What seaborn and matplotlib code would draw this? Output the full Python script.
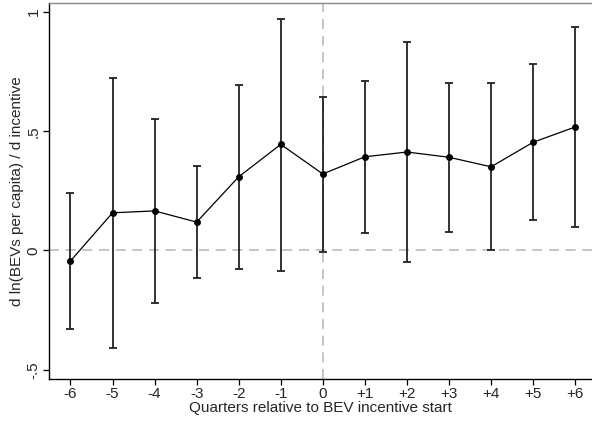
import numpy as np
import pandas as pd
import matplotlib
matplotlib.use('Agg')
import matplotlib.pyplot as plt
import seaborn as sns

# Event-study coefficients and 95% CI
quarters = [-6, -5, -4, -3, -2, -1, 0, 1, 2, 3, 4, 5, 6]
tick_labels = ['-6', '-5', '-4', '-3', '-2', '-1', '0', '+1', '+2', '+3', '+4', '+5', '+6']
coef = [-0.044, 0.158, 0.166, 0.119, 0.309, 0.445, 0.321, 0.393, 0.413, 0.391, 0.351, 0.454, 0.518]
ci_low = [-0.330, -0.407, -0.222, -0.114, -0.078, -0.085, -0.005, 0.075, -0.050, 0.078, 0.001, 0.128, 0.099]
ci_high = [0.242, 0.725, 0.553, 0.354, 0.694, 0.971, 0.642, 0.711, 0.874, 0.701, 0.704, 0.781, 0.938]

df = pd.DataFrame({'q': quarters, 'b': coef, 'lo': ci_low, 'hi': ci_high})

sns.set_style('white')
plt.rcParams['font.family'] = ['Liberation Sans', 'DejaVu Sans']

fig = plt.figure(figsize=(5.92, 4.29), dpi=100)
ax = fig.add_axes([49/592, 50/429, 1 - 49/592, 376/429])

# reference lines
ax.axhline(0, color='#bbbbbb', lw=1.2, ls=(0, (6, 4)), zorder=1)
ax.axvline(0, color='#bbbbbb', lw=1.2, ls=(0, (6, 4)), zorder=1)

# confidence intervals
ax.errorbar(df['q'], df['b'], yerr=[df['b'] - df['lo'], df['hi'] - df['b']],
            fmt='none', ecolor='#222222', elinewidth=1.3, capsize=3, capthick=1.3, zorder=2)

# point estimates
sns.lineplot(data=df, x='q', y='b', ax=ax, color='black', lw=0.9,
             marker='o', markersize=5, markeredgewidth=0, zorder=3)

ax.set_xlim(-6.51, 6.4)
ax.set_ylim(-0.539, 1.038)
ax.set_xticks(quarters)
ax.set_xticklabels(tick_labels)
ax.set_yticks([-0.5, 0, 0.5, 1])
ax.set_yticklabels(['-.5', '0', '.5', '1'], rotation=90, va='center')

ax.set_xlabel('Quarters relative to BEV incentive start', fontsize=11, labelpad=0)
ax.set_ylabel('d ln(BEVs per capita) / d incentive', fontsize=11, labelpad=2)
ax.tick_params(axis='both', which='both', direction='out', length=4, width=0.9,
               labelsize=11, pad=2, color='black', bottom=True, left=True)

for s in ['left', 'bottom']:
    ax.spines[s].set_color('black')
    ax.spines[s].set_linewidth(1.0)
ax.spines['right'].set_visible(False)
ax.spines['top'].set_color('#888888')
ax.spines['top'].set_linewidth(1.0)

fig.savefig('out.png', dpi=100)
